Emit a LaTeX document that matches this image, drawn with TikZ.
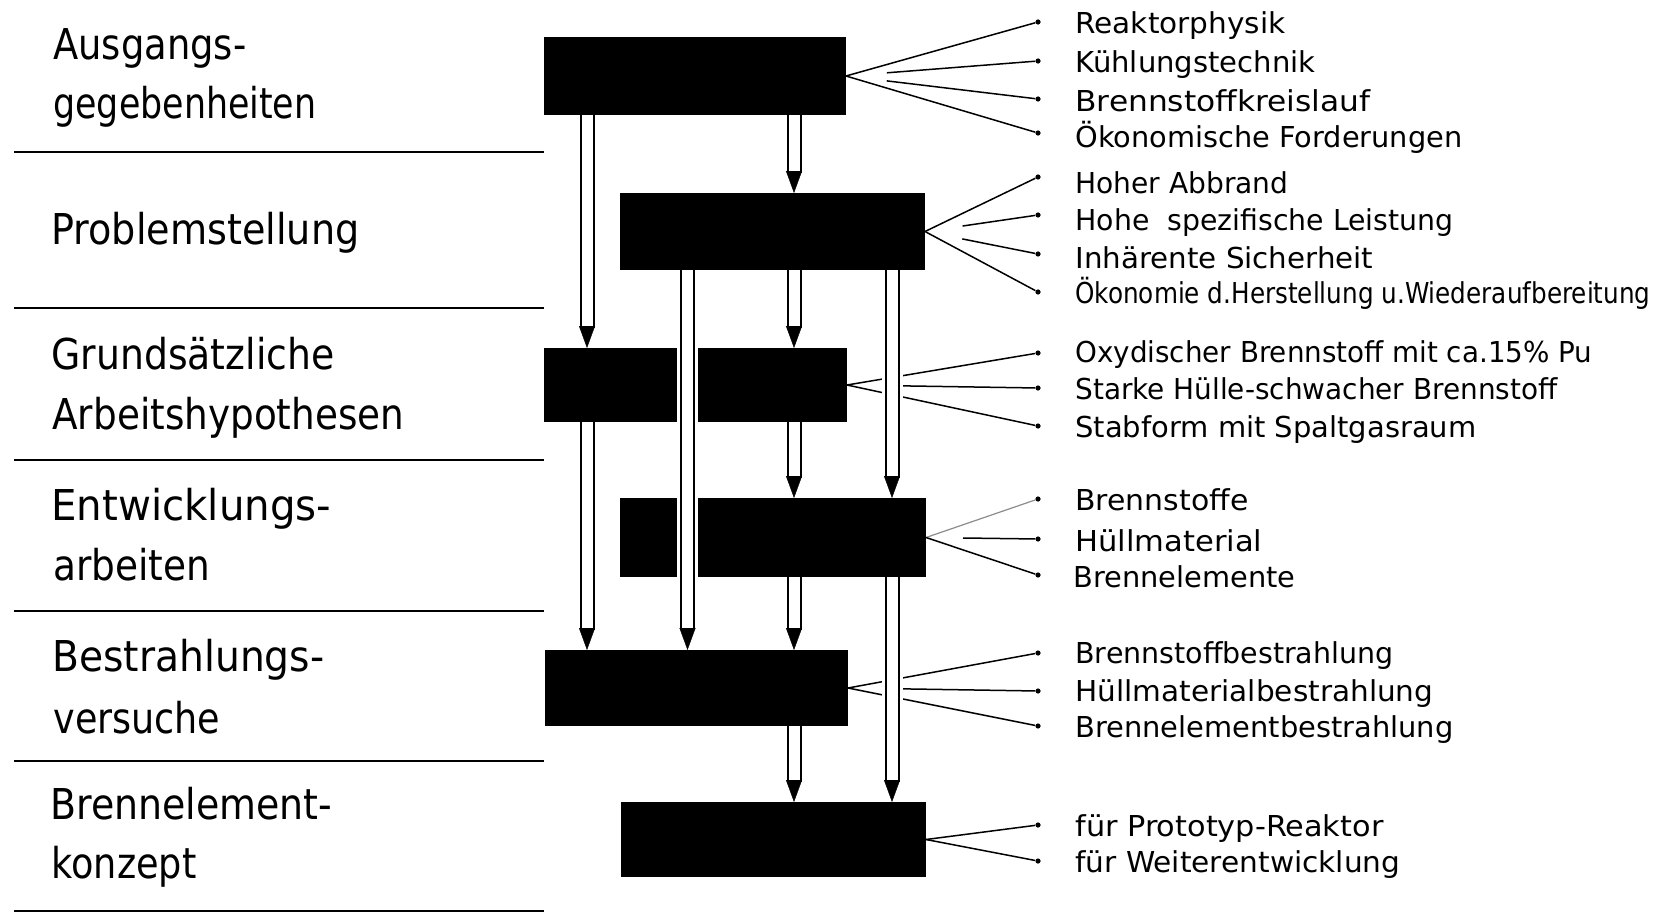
\documentclass[tikz,border=0pt]{standalone}
\usepackage{fontspec}
\usepackage{graphicx}
\setmainfont{DejaVu Sans}
\usetikzlibrary{arrows.meta}
% one drawing unit = 0.5pt
\newdimen\pxu \pxu=0.5pt
\newcommand\fitpx[2]{\resizebox{#1\pxu}{\height}{#2}}
\newcommand\stagefont{\fontsize{21.25pt}{25pt}\selectfont}
\newcommand\itemfont{\fontsize{14.4pt}{17pt}\selectfont}
\begin{document}
\begin{tikzpicture}[x=0.5pt, y=-0.5pt,
  blk/.style={fill=black, draw=none, inner sep=0pt, outer sep=0pt},
  rule/.style={line width=1pt},
  fan/.style={line width=0.75pt},
  faintfan/.style={line width=0.6pt, draw=black!45},
  dot/.style={circle, fill=black, inner sep=0pt, minimum size=2.6pt},
  stage/.style={anchor=base west, inner sep=0pt, font=\stagefont},
  item/.style={anchor=base west, inner sep=0pt, font=\itemfont},
  flow/.style={draw=white, line width=10.5pt, shorten >=10pt,
    postaction={draw=black, line width=7.5pt, shorten >=10pt},
    postaction={draw=white, line width=5.5pt, shorten >=10pt},
    postaction={draw=white, line width=0.2pt, shorten >=0pt,
      -{Triangle[length=11pt, width=8pt, color=black]}}},
]
\useasboundingbox (0,0) rectangle (1664,915);
\fill[white] (0,0) rectangle (1664,915);

% stage separators
\foreach \yy in {152,308,460,611,761,911}
  \draw[rule] (14,\yy) -- (544,\yy);

% stage titles
\node[stage] (s1a) at (53,60)  {\fitpx{193}{Ausgangs-}};
\node[stage] (s1b) at (53,119) {\fitpx{263}{gegebenheiten}};
\node[stage] (s2)  at (51,244) {\fitpx{308}{Problemstellung}};
\node[stage] (s3a) at (51,369) {\fitpx{283}{Grundsätzliche}};
\node[stage] (s3b) at (52,429) {\fitpx{352}{Arbeitshypothesen}};
\node[stage] (s4a) at (51,520) {\fitpx{280}{Entwicklungs-}};
\node[stage] (s4b) at (53,580) {\fitpx{157}{arbeiten}};
\node[stage] (s5a) at (52,671) {\fitpx{272}{Bestrahlungs-}};
\node[stage] (s5b) at (53,733) {\fitpx{167}{versuche}};
\node[stage] (s6a) at (50,819) {\fitpx{282}{Brennelement-}};
\node[stage] (s6b) at (51,878) {\fitpx{145}{konzept}};

% black stage bars
\node[blk, minimum width=151pt,   minimum height=39pt]   (b1) at (695,76) {};
\node[blk, minimum width=152.5pt, minimum height=38.5pt] (b2) at (772.5,231.5) {};
\node[blk, minimum width=151.5pt, minimum height=37pt]   (b3) at (695.5,385) {};
\node[blk, minimum width=153pt,   minimum height=39.5pt] (b4) at (773,537.5) {};
\node[blk, minimum width=151.5pt, minimum height=38pt]   (b5) at (696.5,688) {};
\node[blk, minimum width=152.5pt, minimum height=37.5pt] (b6) at (773.5,839.5) {};

% bullet points
\node[dot] (d1)  at (1038,22)  {};
\node[dot] (d2)  at (1038,61)  {};
\node[dot] (d3)  at (1038,99)  {};
\node[dot] (d4)  at (1038,133) {};
\node[dot] (d5)  at (1038,177) {};
\node[dot] (d6)  at (1038,215) {};
\node[dot] (d7)  at (1038,254) {};
\node[dot] (d8)  at (1038,292) {};
\node[dot] (d9)  at (1038,353) {};
\node[dot] (d10) at (1038,388) {};
\node[dot] (d11) at (1038,426) {};
\node[dot] (d12) at (1038,499) {};
\node[dot] (d13) at (1038,539) {};
\node[dot] (d14) at (1038,575) {};
\node[dot] (d15) at (1038,653) {};
\node[dot] (d16) at (1038,691) {};
\node[dot] (d17) at (1038,726) {};
\node[dot] (d18) at (1038,825) {};
\node[dot] (d19) at (1038,861) {};

% fan lines
\draw[fan] (b1.east) -- (d1);
\draw[fan, shorten <=20.5pt] (b1.east) -- (d2);
\draw[fan, shorten <=20.5pt] (b1.east) -- (d3);
\draw[fan] (b1.east) -- (d4);
\draw[fan] (b2.east) -- (d5);
\draw[fan, shorten <=19pt] (b2.east) -- (d6);
\draw[fan, shorten <=19pt] (b2.east) -- (d7);
\draw[fan] (b2.east) -- (d8);
\draw[fan] (b3.east) -- (d9);
\draw[fan, shorten <=28pt] (b3.east) -- (d10);
\draw[fan] (b3.east) -- (d11);
\draw[faintfan] (b4.east) -- (d12);
\draw[fan, shorten <=18.5pt] (b4.east) -- (d13);
\draw[fan] (b4.east) -- (d14);
\draw[fan] (b5.east) -- (d15);
\draw[fan, shorten <=27.5pt] (b5.east) -- (d16);
\draw[fan] (b5.east) -- (d17);
\draw[fan] (b6.east) -- (d18);
\draw[fan] (b6.east) -- (d19);

% arrow columns
\coordinate (cA) at (587,0);
\coordinate (cB) at (687.5,0);
\coordinate (cC) at (794,0);
\coordinate (cD) at (892,0);

% flow arrows
\draw[flow] (b1.south -| cA) -- (b3.north -| cA);
\draw[flow] (b1.south -| cC) -- (b2.north -| cC);
\draw[flow] (b2.south -| cB) -- (b5.north -| cB);
\draw[flow] (b2.south -| cC) -- (b3.north -| cC);
\draw[flow] (b2.south -| cD) -- (b4.north -| cD);
\draw[flow] (b3.south -| cA) -- (b5.north -| cA);
\draw[flow] (b3.south -| cC) -- (b4.north -| cC);
\draw[flow] (b4.south -| cC) -- (b5.north -| cC);
\draw[flow] (b4.south -| cD) -- (b6.north -| cD);
\draw[flow] (b5.south -| cC) -- (b6.north -| cC);

% item texts
\node[item] (t1)  at (1075,34)  {\fitpx{210}{Reaktorphysik}};
\node[item] (t2)  at (1075,73)  {\fitpx{240}{Kühlungstechnik}};
\node[item] (t3)  at (1075,112) {\fitpx{295}{Brennstoffkreislauf}};
\node[item] (t4)  at (1075,148) {\fitpx{387}{Ökonomische Forderungen}};
\node[item] (t5)  at (1075,193) {\fitpx{213}{Hoher Abbrand}};
\node[item] (t6)  at (1075,230) {\fitpx{378}{Hohe\ \ spezifische Leistung}};
\node[item] (t7)  at (1075,268) {\fitpx{298}{Inhärente Sicherheit}};
\node[item] (t8)  at (1075,303) {\fitpx{575}{Ökonomie d.Herstellung u.Wiederaufbereitung}};
\node[item] (t9)  at (1075,362) {\fitpx{517}{Oxydischer Brennstoff mit ca.15\% Pu}};
\node[item] (t10) at (1075,399) {\fitpx{482}{Starke Hülle-schwacher Brennstoff}};
\node[item] (t11) at (1075,437) {\fitpx{401}{Stabform mit Spaltgasraum}};
\node[item] (t12) at (1075,510) {\fitpx{173}{Brennstoffe}};
\node[item] (t13) at (1075,551) {\fitpx{187}{Hüllmaterial}};
\node[item] (t14) at (1073,587) {\fitpx{222}{Brennelemente}};
\node[item] (t15) at (1075,663) {\fitpx{318}{Brennstoffbestrahlung}};
\node[item] (t16) at (1075,701) {\fitpx{358}{Hüllmaterialbestrahlung}};
\node[item] (t17) at (1075,737) {\fitpx{378}{Brennelementbestrahlung}};
\node[item] (t18) at (1075,836) {\fitpx{308}{für Prototyp-Reaktor}};
\node[item] (t19) at (1075,872) {\fitpx{325}{für Weiterentwicklung}};
\end{tikzpicture}
\end{document}
